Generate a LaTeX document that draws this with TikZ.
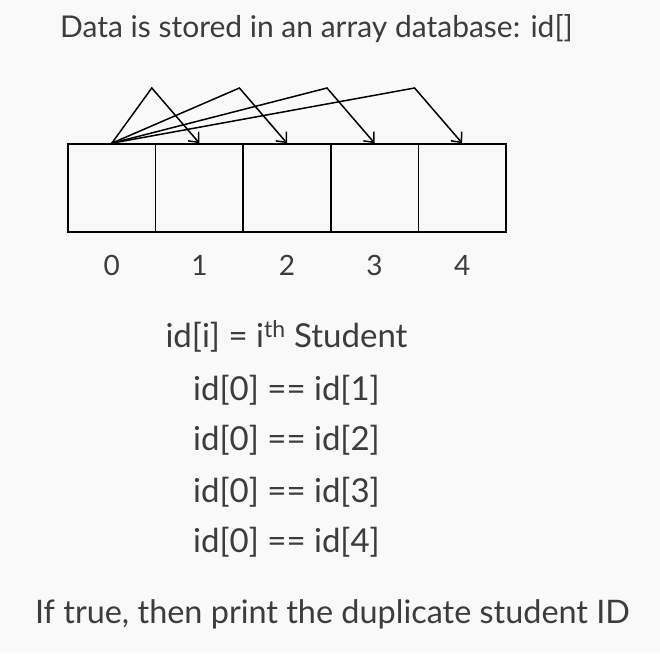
\documentclass[tikz,border=0pt]{standalone}
\usepackage{fontspec}
\setmainfont{Lato}
\usetikzlibrary{positioning,arrows.meta}
\definecolor{bg}{HTML}{F9F9F9}
\definecolor{ink}{HTML}{3C3C3C}
\tikzset{
  cell/.style={draw=black, line width=1.6pt, minimum width=87.6pt, minimum height=88pt, inner sep=0pt},
  idx/.style={text=ink, anchor=base, inner sep=0pt, font=\fontsize{28}{34}\selectfont},
  txt/.style={text=ink, anchor=base, inner sep=0pt, font=\fontsize{30}{36}\selectfont},
  big/.style={txt, font=\fontsize{33}{40}\selectfont},
  hop/.style={draw=black, line width=1.5pt, -{Straight Barb[length=8pt,width=14pt]}}
}
\begin{document}
\begin{tikzpicture}[x=1pt,y=-1pt]
\fill[bg] (0,0) rectangle (660,653);
\useasboundingbox (0,0) rectangle (660,653);

\node[txt] (title) at (316.5,37) {Data is stored in an array database: id[]};

\foreach \i in {0,...,4} {
        \node[cell] (c\i) at (111.8 + 87.6*\i,188) {};
        \node[idx] (n\i) at (111.8 + 87.6*\i,275) {\i};
 }

\foreach \i in {1,...,4} {
        \coordinate (p\i) at (64.2 + 87.6*\i,88);
        \draw[hop] (c0.north) -- (p\i) -- (c\i.north);
 }

\node[big] (def) at (286.5,347) {id[i] = i\textsuperscript{th} Student};
\node[big] (q1) at (286.5,400) {id[0] == id[1]};
\node[big] (q2) at (286.5,450) {id[0] == id[2]};
\node[big] (q3) at (286.5,502) {id[0] == id[3]};
\node[big] (q4) at (286.5,552) {id[0] == id[4]};

\node[txt, font=\fontsize{32.4}{38}\selectfont] (res) at (332.5,623) {If true, then print the duplicate student ID};
\end{tikzpicture}
\end{document}
